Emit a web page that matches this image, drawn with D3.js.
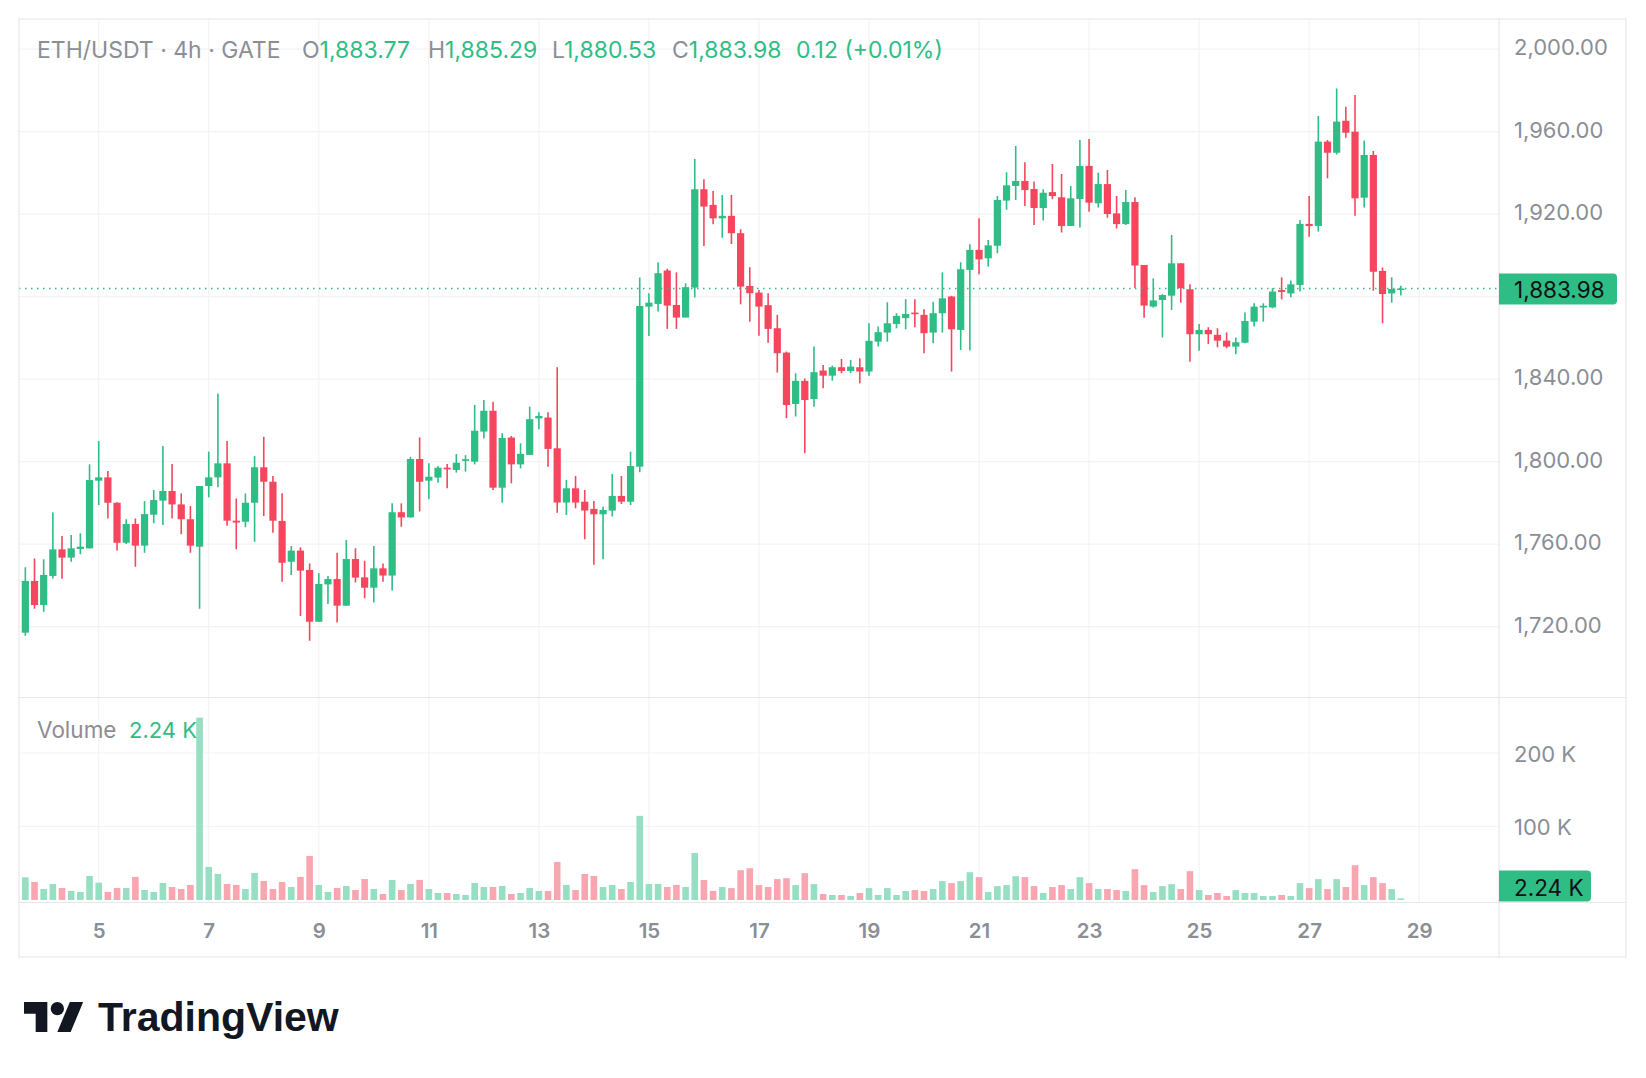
<!DOCTYPE html>
<html>
<head>
<meta charset="utf-8">
<script src="https://cdn.jsdelivr.net/npm/d3@7"></script>
<style>
html, body { margin: 0; padding: 0; background: #fff; }
svg text { font-family: Inter, Roboto, "Liberation Sans", sans-serif; }
</style>
</head>
<body>
<svg id="chart" width="1646" height="1078"></svg>
<script>
// ETH/USDT 4h candles, first bar opens 2023-06-03 16:00 UTC
var firstBar = Date.UTC(2023, 5, 3, 16);
var barHours = 4;

var opens = [
 1717.1,1742.2,1730.5,1744.6,1757.5,1753.5,1757.7,1758.0,
 1790.8,1792.4,1780.1,1760.7,1769.8,1759.3,1774.3,1781.1,
 1785.8,1779.3,1772.1,1758.8,1788.2,1792.4,1799.2,1771.4,
 1770.9,1780.1,1797.3,1790.3,1771.3,1751.5,1756.9,1747.5,
 1722.4,1740.5,1743.1,1730.2,1752.8,1743.9,1738.9,1748.3,
 1744.8,1775.5,1773.0,1801.3,1790.8,1792.3,1797.1,1796.0,
 1800.4,1800.0,1814.6,1824.7,1787.4,1811.7,1798.7,1803.3,
 1821.0,1821.4,1806.5,1780.2,1787.1,1780.6,1777.1,1774.5,
 1776.3,1783.4,1780.6,1797.6,1875.2,1876.5,1892.7,1876.0,
 1869.9,1884.4,1932.1,1924.5,1918.0,1919.2,1910.8,1885.2,
 1882.0,1875.9,1864.7,1852.9,1828.0,1839.2,1830.4,1844.2,
 1841.7,1845.8,1844.0,1845.8,1843.7,1858.2,1862.6,1866.8,
 1869.6,1872.3,1871.2,1862.6,1872.0,1880.1,1863.9,1893.0,
 1902.7,1898.6,1904.7,1926.6,1933.7,1936.1,1932.2,1923.0,
 1930.7,1928.2,1914.3,1927.4,1943.4,1925.3,1934.6,1920.4,
 1915.2,1925.9,1895.4,1875.2,1878.4,1880.5,1896.2,1883.6,
 1861.8,1863.9,1861.5,1858.7,1855.8,1857.7,1867.9,1874.8,
 1874.8,1883.2,1881.6,1885.7,1915.3,1914.3,1955.2,1949.8,
 1965.3,1960.0,1928.0,1948.7,1892.5,1881.6,1883.77
];
var highs = [
 1748.8,1753.1,1752.7,1775.4,1764.0,1764.5,1765.3,1798.7,
 1810.0,1795.5,1780.3,1772.1,1772.5,1780.9,1786.3,1807.6,
 1798.9,1784.6,1778.5,1788.2,1804.9,1833.1,1810.0,1782.2,
 1784.6,1802.8,1812.1,1793.1,1784.7,1759.1,1758.5,1750.7,
 1745.9,1744.6,1755.9,1762.0,1758.0,1752.0,1759.1,1750.7,
 1779.8,1779.8,1802.4,1811.8,1799.2,1797.9,1798.9,1803.7,
 1803.2,1827.5,1829.9,1829.1,1813.8,1812.5,1808.9,1826.7,
 1824.0,1824.0,1845.8,1791.2,1793.1,1786.3,1781.0,1778.2,
 1794.1,1793.1,1804.9,1889.3,1881.7,1896.7,1893.5,1891.8,
 1886.5,1946.8,1936.9,1931.3,1929.3,1929.3,1912.7,1894.3,
 1883.3,1881.7,1871.2,1853.4,1842.9,1840.4,1855.8,1846.9,
 1846.6,1849.8,1849.3,1850.2,1867.1,1865.5,1877.3,1872.0,
 1878.8,1878.8,1873.9,1877.6,1891.8,1880.4,1896.7,1905.4,
 1918.0,1907.5,1928.8,1940.3,1953.1,1945.2,1935.8,1932.1,
 1944.3,1939.5,1933.7,1956.0,1956.5,1940.1,1941.4,1928.8,
 1931.7,1928.2,1895.4,1888.9,1881.2,1909.9,1896.2,1886.0,
 1866.8,1865.2,1864.7,1862.7,1860.2,1872.3,1876.8,1876.8,
 1884.1,1889.4,1887.8,1917.2,1928.8,1967.6,1956.0,1981.0,
 1972.1,1977.8,1955.7,1950.6,1894.2,1889.4,1885.29
];
var lows = [
 1715.6,1728.7,1727.3,1743.4,1743.3,1751.5,1755.1,1757.9,
 1779.0,1772.5,1756.9,1760.1,1749.1,1755.9,1770.1,1769.3,
 1772.5,1764.8,1755.9,1728.7,1782.7,1787.6,1769.0,1757.5,
 1768.2,1761.2,1773.7,1765.6,1741.8,1745.1,1725.2,1713.2,
 1722.4,1731.0,1722.0,1730.2,1741.4,1733.8,1731.7,1741.8,
 1737.5,1768.5,1773.0,1775.8,1781.8,1789.8,1787.1,1794.7,
 1795.2,1798.7,1811.3,1786.3,1780.1,1789.5,1796.8,1803.3,
 1815.7,1797.6,1775.3,1774.2,1777.4,1762.4,1750.0,1752.7,
 1773.4,1779.5,1779.0,1794.9,1861.0,1872.8,1864.4,1864.4,
 1869.9,1879.6,1904.6,1915.1,1908.6,1905.6,1876.3,1867.9,
 1861.1,1857.7,1843.2,1821.1,1821.9,1804.1,1826.7,1835.6,
 1839.3,1842.9,1842.9,1838.0,1841.7,1855.8,1858.2,1864.7,
 1864.2,1865.2,1852.6,1857.4,1862.6,1843.7,1854.2,1853.9,
 1890.9,1894.6,1901.1,1922.1,1926.9,1924.0,1914.8,1916.9,
 1927.2,1911.1,1914.3,1913.5,1921.2,1923.2,1918.3,1913.1,
 1914.8,1884.1,1869.8,1874.7,1860.2,1873.6,1877.1,1848.5,
 1853.8,1857.1,1855.5,1855.0,1852.1,1857.4,1865.5,1867.9,
 1874.4,1878.7,1879.7,1882.5,1909.1,1911.6,1937.4,1949.0,
 1957.1,1919.3,1923.3,1882.9,1867.1,1877.1,1880.53
];
var closes = [
 1742.2,1730.5,1745.1,1757.5,1753.5,1758.0,1758.8,1791.1,
 1792.4,1780.1,1760.7,1769.8,1759.3,1774.6,1781.4,1785.8,
 1779.3,1772.1,1759.3,1788.2,1792.4,1799.2,1771.4,1770.5,
 1780.1,1797.3,1790.3,1771.4,1751.0,1756.9,1747.2,1722.4,
 1740.7,1743.1,1730.2,1752.8,1743.8,1738.9,1748.3,1744.8,
 1775.5,1773.0,1801.3,1790.3,1792.7,1797.1,1796.3,1799.5,
 1801.2,1815.0,1824.7,1787.4,1811.5,1798.7,1803.8,1820.6,
 1822.2,1806.2,1780.2,1787.1,1780.2,1776.3,1774.5,1776.6,
 1783.4,1780.6,1797.9,1875.5,1877.1,1891.4,1875.7,1869.9,
 1884.6,1932.1,1923.7,1918.0,1919.2,1910.8,1884.9,1881.7,
 1875.2,1864.4,1852.6,1827.5,1839.2,1829.9,1843.4,1841.7,
 1845.8,1844.0,1846.1,1843.7,1858.6,1862.8,1867.1,1870.7,
 1871.6,1871.5,1862.3,1872.0,1879.2,1864.2,1893.3,1902.7,
 1898.1,1904.9,1926.9,1934.0,1936.1,1931.7,1923.0,1930.4,
 1928.8,1914.3,1927.7,1943.4,1925.6,1934.6,1920.1,1915.2,
 1925.9,1895.1,1875.7,1878.2,1880.8,1896.2,1884.1,1861.8,
 1863.9,1861.8,1858.7,1855.8,1857.9,1868.2,1875.2,1875.6,
 1882.5,1882.3,1886.0,1915.3,1914.3,1955.2,1949.8,1964.9,
 1959.5,1927.7,1948.7,1892.1,1881.3,1883.7,1883.98
];
// volume in thousands
var volumesK = [
 30.9,24.5,15.0,21.8,16.4,12.3,10.9,32.7,
 23.6,10.9,16.4,16.4,31.4,13.6,10.9,23.2,
 17.7,15.0,20.5,248,45.0,35.5,21.8,20.5,
 15.0,36.8,25.9,15.0,24.5,17.7,31.4,60.0,
 20.5,10.9,16.4,19.1,13.6,28.6,15.0,8.2,
 27.3,13.6,21.8,27.3,15.0,9.5,9.5,8.2,
 6.8,23.2,17.7,17.7,19.1,8.2,9.5,16.4,
 12.3,12.3,51.8,20.5,13.6,35.5,32.7,17.7,
 20.5,15.0,24.5,114.5,21.8,21.8,17.7,20.5,
 17.7,64.0,27.3,12.3,17.6,16.2,40.5,43.2,
 20.3,17.6,28.4,29.7,20.3,36.5,21.6,8.1,
 6.8,6.8,5.4,9.5,16.2,6.8,16.2,6.8,
 12.2,13.5,12.2,14.9,25.7,23.0,25.7,37.8,
 31.1,10.8,18.9,20.3,32.4,31.1,18.9,9.5,
 17.6,20.3,14.9,31.1,23.0,14.9,14.9,13.5,
 12.2,41.9,20.3,10.8,18.9,21.6,14.9,39.2,
 13.5,6.8,9.5,5.4,13.5,9.5,9.5,5.4,
 5.4,6.8,5.4,23.0,16.2,28.4,14.9,28.4,
 17.6,47.3,20.3,31.1,23.0,14.9,2.24
];

var priceTicks = [1720, 1760, 1800, 1840, 1880, 1920, 1960, 2000];
var volumeTicks = [100000, 200000];
var dayTicks = [5, 7, 9, 11, 13, 15, 17, 19, 21, 23, 25, 27, 29];
var headerChange = "0.12 (+0.01%)";

var up = "#2ebd85", down = "#f6465d";
var upVol = "#97dfc2", downVol = "#f9a6b1";
var gray = "#8b8e95", gridColor = "#f2f3f5", lineColor = "#e6e8ec";

// pane geometry (window.top is read-only, so paneTop)
var left = 19, right = 1626, axisX = 1499;
var paneTop = 19, paneSep = 697.5, volBottom = 902.5, bottom = 957;

var svg = d3.select("#chart");

var x = d3.scaleUtc()
    .domain([Date.UTC(2023, 5, 5), Date.UTC(2023, 5, 29)])
    .range([98.7, 1419.2]);
var y = d3.scaleLinear().domain([1720, 2000]).range([626.7, 49.2]);
var yv = d3.scaleLinear().domain([0, 200000]).range([900, 753]);

var bars = opens.map(function(o, i) {
    return {
        t: new Date(firstBar + i * barHours * 3600 * 1000),
        o: o, h: highs[i], l: lows[i], c: closes[i],
        v: volumesK[i] * 1000
    };
});

// grid
var grid = svg.append("g");
grid.selectAll("line.v")
    .data(dayTicks)
    .enter().append("line")
    .attr("x1", function(d) { return x(Date.UTC(2023, 5, d)); })
    .attr("x2", function(d) { return x(Date.UTC(2023, 5, d)); })
    .attr("y1", paneTop).attr("y2", volBottom)
    .attr("stroke", gridColor).attr("stroke-width", 1.2);
grid.selectAll("line.p")
    .data(priceTicks)
    .enter().append("line")
    .attr("x1", left).attr("x2", axisX)
    .attr("y1", function(d) { return y(d); })
    .attr("y2", function(d) { return y(d); })
    .attr("stroke", gridColor).attr("stroke-width", 1.2);
grid.selectAll("line.vol")
    .data(volumeTicks)
    .enter().append("line")
    .attr("x1", left).attr("x2", axisX)
    .attr("y1", function(d) { return yv(d); })
    .attr("y2", function(d) { return yv(d); })
    .attr("stroke", gridColor).attr("stroke-width", 1.2);

// volume bars
svg.append("g").selectAll("rect")
    .data(bars)
    .enter().append("rect")
    .attr("x", function(d) { return x(d.t) - 3.3; })
    .attr("width", 6.6)
    .attr("y", function(d) { return yv(d.v); })
    .attr("height", function(d) { return yv(0) - yv(d.v); })
    .attr("fill", function(d) { return d.c >= d.o ? upVol : downVol; });

// candles
svg.append("defs").append("clipPath").attr("id", "pricePane")
    .append("rect").attr("x", left).attr("y", paneTop)
    .attr("width", axisX - left).attr("height", paneSep - paneTop);
var candles = svg.append("g").attr("clip-path", "url(#pricePane)");
candles.selectAll("line")
    .data(bars)
    .enter().append("line")
    .attr("x1", function(d) { return x(d.t); })
    .attr("x2", function(d) { return x(d.t); })
    .attr("y1", function(d) { return y(d.h); })
    .attr("y2", function(d) { return y(d.l); })
    .attr("stroke", function(d) { return d.c >= d.o ? up : down; })
    .attr("stroke-width", 1.6);
candles.selectAll("rect")
    .data(bars)
    .enter().append("rect")
    .attr("x", function(d) { return x(d.t) - 3.6; })
    .attr("width", 7.2)
    .attr("y", function(d) { return y(Math.max(d.o, d.c)); })
    .attr("height", function(d) { return Math.max(1.5, Math.abs(y(d.o) - y(d.c))); })
    .attr("fill", function(d) { return d.c >= d.o ? up : down; });

var last = bars[bars.length - 1];

// last price dotted line
svg.append("line")
    .attr("x1", left).attr("x2", axisX)
    .attr("y1", y(last.c)).attr("y2", y(last.c))
    .attr("stroke", up).attr("stroke-width", 1.5)
    .attr("stroke-dasharray", "1.5 4.5");

// frame
var frame = svg.append("g").attr("stroke", lineColor).attr("stroke-width", 1.2).attr("fill", "none");
frame.append("rect").attr("x", left).attr("y", paneTop).attr("width", right - left).attr("height", bottom - paneTop);
frame.append("line").attr("x1", left).attr("x2", right).attr("y1", paneSep).attr("y2", paneSep);
frame.append("line").attr("x1", left).attr("x2", right).attr("y1", volBottom).attr("y2", volBottom);
frame.append("line").attr("x1", axisX).attr("x2", axisX).attr("y1", paneTop).attr("y2", bottom);

// price axis
var priceAxis = d3.axisRight(y)
    .tickValues(priceTicks.filter(function(d) { return Math.abs(y(d) - y(last.c)) > 20; }))
    .tickFormat(d3.format(",.2f"))
    .tickSize(0).tickPadding(15);
var pa = svg.append("g").attr("transform", "translate(" + axisX + ",-1.5)").call(priceAxis);
pa.select(".domain").remove();
pa.selectAll("text").attr("fill", gray).style("font-size", "22px");

// volume axis
var volAxis = d3.axisRight(yv)
    .tickValues(volumeTicks)
    .tickFormat(function(d) { return (d / 1000) + " K"; })
    .tickSize(0).tickPadding(15);
var va = svg.append("g").attr("transform", "translate(" + axisX + ",1)").call(volAxis);
va.select(".domain").remove();
va.selectAll("text").attr("fill", gray).style("font-size", "22px");

// time axis
var timeAxis = d3.axisBottom(x)
    .tickValues(dayTicks.map(function(d) { return new Date(Date.UTC(2023, 5, d)); }))
    .tickFormat(d3.utcFormat("%-d"))
    .tickSize(0).tickPadding(21);
var ta = svg.append("g").attr("transform", "translate(0," + volBottom + ")").call(timeAxis);
ta.select(".domain").remove();
ta.selectAll("text").attr("fill", gray).style("font-size", "20.5px").style("font-weight", 600);

// last value badges
var fmt = d3.format(",.2f");
function badge(yc, w, label) {
    svg.append("path")
        .attr("d", "M" + axisX + "," + (yc - 15.5) + "h" + (w - 4) + "a4,4 0 0 1 4,4v23a4,4 0 0 1 -4,4h" + (4 - w) + "z")
        .attr("fill", up);
    svg.append("text")
        .attr("x", 1514).attr("y", yc + 1)
        .attr("dominant-baseline", "central")
        .attr("fill", "#111").style("font-size", "22.5px")
        .text(label);
}
badge(y(last.c) + 0.5, 118, fmt(last.c));
badge(886, 92, d3.format(".2f")(last.v / 1000) + " K");

// header legend: label letters at fixed spots, values follow them
var head = svg.append("text").attr("y", 50).attr("dominant-baseline", "central").style("font-size", "23px");
var parts = [
    [37, "ETH/USDT · 4h · GATE", gray],
    [302, "O", gray], [null, fmt(last.o), up],
    [428, "H", gray], [null, fmt(last.h), up],
    [552, "L", gray], [null, fmt(last.l), up],
    [672, "C", gray], [null, fmt(last.c), up],
    [796, headerChange, up]
];
parts.forEach(function(p) {
    var t = head.append("tspan").attr("fill", p[2]).text(p[1]);
    if (p[0] != null) t.attr("x", p[0]);
});

svg.append("text").attr("x", 37).attr("y", 729.5).attr("dominant-baseline", "central")
    .style("font-size", "22.5px").attr("fill", gray).text("Volume");
svg.append("text").attr("x", 129).attr("y", 729.5).attr("dominant-baseline", "central")
    .style("font-size", "22px").attr("fill", up).text(d3.format(".2f")(last.v / 1000) + " K");

// TradingView logo
var logo = svg.append("g").attr("transform", "translate(24,995.3) scale(1.667)").attr("fill", "#131722");
logo.append("path").attr("d", "M14 22H7V11H0V4h14v18z");
logo.append("circle").attr("cx", 20).attr("cy", 8).attr("r", 4);
logo.append("path").attr("d", "M28 22h-8l7.5-18h8L28 22z");
svg.append("text").attr("x", 98).attr("y", 1031)
    .style("font-family", "'Liberation Sans', Arial, sans-serif")
    .style("font-size", "41px").style("font-weight", 700)
    .attr("fill", "#131722").text("TradingView");
</script>
</body>
</html>
